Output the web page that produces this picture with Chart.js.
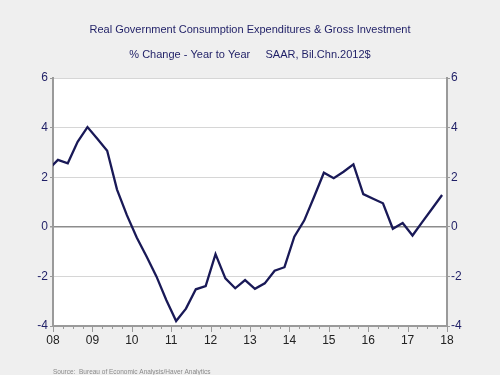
<!DOCTYPE html>
<html>
<head>
<meta charset="utf-8">
<script src="https://cdn.jsdelivr.net/npm/chart.js@4/dist/chart.umd.min.js"></script>
<style>
  html, body { margin: 0; padding: 0; background: #efefef; }
  #wrap { width: 500px; height: 375px; }
</style>
</head>
<body>
<div id="wrap"><canvas id="gov_chart" width="500" height="375"></canvas></div>
<script>
// quarterly, % change year to year (2007Q4 is only there so the line runs into the axis)
const quarters = [
    '2007Q4',
    '2008Q1', '2008Q2', '2008Q3', '2008Q4',
    '2009Q1', '2009Q2', '2009Q3', '2009Q4',
    '2010Q1', '2010Q2', '2010Q3', '2010Q4',
    '2011Q1', '2011Q2', '2011Q3', '2011Q4',
    '2012Q1', '2012Q2', '2012Q3', '2012Q4',
    '2013Q1', '2013Q2', '2013Q3', '2013Q4',
    '2014Q1', '2014Q2', '2014Q3', '2014Q4',
    '2015Q1', '2015Q2', '2015Q3', '2015Q4',
    '2016Q1', '2016Q2', '2016Q3', '2016Q4',
    '2017Q1', '2017Q2', '2017Q3', '2017Q4'
];
const yoyChange = [
    2.3,
    2.7, 2.56, 3.43, 4.02,
    3.55, 3.07, 1.5, 0.47,
    -0.43, -1.2, -2.0, -2.95,
    -3.8, -3.3, -2.52, -2.39,
    -1.1, -2.08, -2.48, -2.15,
    -2.5, -2.28, -1.77, -1.63,
    -0.4, 0.25, 1.2, 2.18,
    1.96, 2.22, 2.52, 1.32,
    1.13, 0.95, -0.08, 0.15,
    -0.35, 0.2, 0.74, 1.28
];
const yTicks = [-4, -2, 0, 2, 4, 6];
const yearTicks = [2008, 2009, 2010, 2011, 2012, 2013, 2014, 2015, 2016, 2017, 2018];

const titleText = 'Real Government Consumption Expenditures & Gross Investment';
const subtitleText = '% Change - Year to Year     SAAR, Bil.Chn.2012$';
const sourceText = 'Source:  Bureau of Economic Analysis/Haver Analytics';

const navy = '#1f1f66';
const axisGray = '#9a9a9a';

// points sit in the middle of each quarter
const points = quarters.map(function (q, i) {
    const year = parseInt(q.slice(0, 4), 10);
    const qtr = parseInt(q.slice(5), 10);
    return { x: year + (qtr - 0.5) / 4, y: yoyChange[i] };
});

const bgPlugin = {
    id: 'bg',
    beforeDraw: function (chart) {
        const c = chart.ctx, a = chart.chartArea;
        c.save();
        c.fillStyle = '#efefef';
        c.fillRect(0, 0, chart.width, chart.height);
        c.fillStyle = '#ffffff';
        c.fillRect(a.left, a.top, a.right - a.left, a.bottom - a.top);
        c.restore();
    }
};

const textPlugin = {
    id: 'texts',
    afterDraw: function (chart) {
        const c = chart.ctx, a = chart.chartArea;
        const xs = chart.scales.x;
        c.save();
        // quarter ticks under the time axis
        c.strokeStyle = axisGray;
        c.lineWidth = 1;
        for (let y = yearTicks[0]; y <= yearTicks[yearTicks.length - 1] + 0.001; y += 0.25) {
            const px = Math.round(xs.getPixelForValue(y)) + 0.5;
            const major = Math.abs(y - Math.round(y)) < 0.01;
            c.beginPath();
            c.moveTo(px, a.bottom);
            c.lineTo(px, a.bottom + (major ? 6 : 3));
            c.stroke();
        }
        c.fillStyle = navy;
        c.textAlign = 'center';
        c.textBaseline = 'middle';
        c.font = '11px "Liberation Sans", Arial, sans-serif';
        c.fillText(titleText, 250, 30);
        c.fillText(subtitleText, 250, 55);
        c.fillStyle = '#8a8a8a';
        c.textAlign = 'left';
        c.font = '6.5px "Liberation Sans", Arial, sans-serif';
        c.fillText(sourceText, 53, 372);
        c.restore();
    }
};

const ctx = document.getElementById('gov_chart').getContext('2d');

const chart = new Chart(ctx, {
    type: 'line',
    data: {
        datasets: [{
            label: 'Real Government Consumption Expenditures & Gross Investment',
            data: points,
            borderColor: '#191957',
            borderWidth: 2.3,
            pointRadius: 0,
            tension: 0,
            clip: 0,
            yAxisID: 'y'
        }]
    },
    options: {
        responsive: false,
        animation: false,
        layout: { padding: { top: 78, left: 0, right: 0, bottom: 0 } },
        plugins: {
            legend: { display: false },
            tooltip: { enabled: false }
        },
        scales: {
            x: {
                type: 'linear',
                min: 2008,
                max: 2018,
                afterFit: function (s) { s.height = 49; },
                afterBuildTicks: function (s) { s.ticks = yearTicks.map(function (v) { return { value: v }; }); },
                ticks: {
                    autoSkip: false,
                    maxRotation: 0,
                    padding: 7,
                    color: '#222222',
                    font: { family: '"Liberation Sans", Arial, sans-serif', size: 12 },
                    callback: function (v) { return String(v % 100).padStart(2, '0'); }
                },
                grid: { drawOnChartArea: false, drawTicks: false },
                border: { color: axisGray, width: 2 }
            },
            y: {
                position: 'left',
                min: -4,
                max: 6,
                afterFit: function (s) { s.width = 53; },
                afterBuildTicks: function (s) { s.ticks = yTicks.map(function (v) { return { value: v }; }); },
                ticks: {
                    padding: 2,
                    color: navy,
                    font: { family: '"Liberation Sans", Arial, sans-serif', size: 12 }
                },
                grid: {
                    color: function (c) { return c.tick && c.tick.value === 0 ? '#8c8c8c' : '#d6d6d6'; },
                    lineWidth: function (c) { return c.tick && c.tick.value === 0 ? 1.5 : 1; },
                    tickLength: 3,
                    tickColor: axisGray
                },
                border: { color: axisGray, width: 2 }
            },
            y2: {
                position: 'right',
                min: -4,
                max: 6,
                afterFit: function (s) { s.width = 53; },
                afterBuildTicks: function (s) { s.ticks = yTicks.map(function (v) { return { value: v }; }); },
                ticks: {
                    padding: 1,
                    color: navy,
                    font: { family: '"Liberation Sans", Arial, sans-serif', size: 12 }
                },
                grid: { drawOnChartArea: false, tickLength: 3, tickColor: axisGray },
                border: { color: axisGray, width: 2 }
            }
        }
    },
    plugins: [bgPlugin, textPlugin]
});
</script>
</body>
</html>
